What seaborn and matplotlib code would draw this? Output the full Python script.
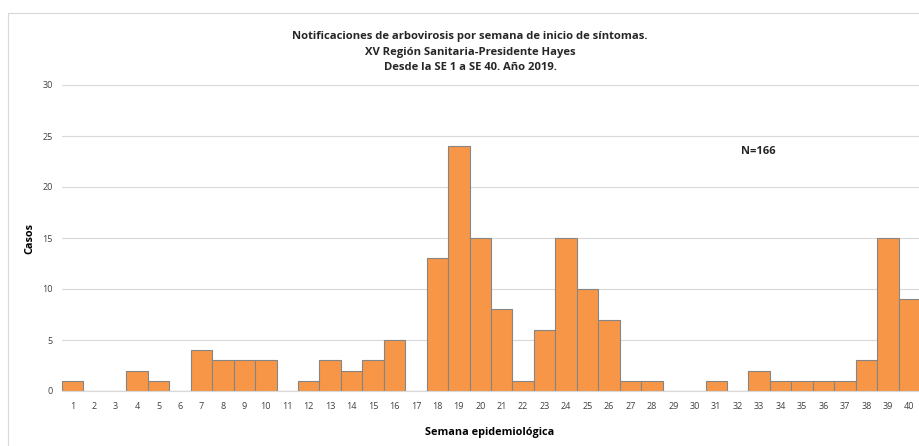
import matplotlib
matplotlib.use("Agg")
import matplotlib.pyplot as plt
import seaborn as sns
import pandas as pd
from matplotlib.lines import Line2D

weeks = [str(i) for i in range(1, 41)]
cases = [1, 0, 0, 2, 1, 0, 4, 3, 3, 3,
         0, 1, 3, 2, 3, 5, 0, 13, 24, 15,
         8, 1, 6, 15, 10, 7, 1, 1, 0, 0,
         1, 0, 2, 1, 1, 1, 1, 3, 15, 9]
y_ticks = [0, 5, 10, 15, 20, 25, 30]
title_lines = ["Notificaciones de arbovirosis por semana de inicio de síntomas.",
               "XV Región Sanitaria-Presidente Hayes",
               "Desde la SE 1 a SE 40. Año 2019."]
n_label = "N=166"

sns.set_theme(style="white")
plt.rcParams['font.family'] = ['Open Sans', 'DejaVu Sans']

df = pd.DataFrame({"Semana": weeks, "Casos": cases})

fig = plt.figure(figsize=(9.2, 4.46), dpi=100)
ax = fig.add_axes([62/920, 1-391/446, 858/920, (391-85)/446])

ax.yaxis.grid(True, color="#d9d9d9", linewidth=0.8)
ax.set_axisbelow(True)
sns.barplot(data=df, x="Semana", y="Casos", ax=ax, width=1.0,
            color="#F79646", saturation=1, edgecolor="#858585", linewidth=0.8)

ax.set_ylim(0, 30)
ax.set_xlim(-0.5, 39.5)
ax.set_yticks(y_ticks)
ax.set_yticklabels([str(t) for t in y_ticks], fontsize=6.5, color="#404040")
ax.tick_params(axis='x', labelsize=6.5, labelcolor="#404040", length=0, pad=8)
ax.tick_params(axis='y', length=0, pad=6.5)
for s in ["top", "right", "left"]:
    ax.spines[s].set_visible(False)
ax.spines["bottom"].set_color("#d9d9d9")
ax.spines["bottom"].set_linewidth(0.8)

ax.set_xlabel("Semana epidemiológica", fontsize=7.8, fontweight="bold", color="black")
ax.set_ylabel("Casos", fontsize=7.8, fontweight="bold", color="black")
ax.yaxis.set_label_coords((30 - 62) / 858, 0.5)
ax.xaxis.set_label_coords((490 - 62) / 858, -(432 - 391) / 306)
ax.xaxis.label.set_va("center")
ax.yaxis.label.set_va("center")

for i, line in enumerate(title_lines):
    fig.text(470/920, 1-(37+15*i)/446, line, ha="center", va="center", fontsize=8.1, fontweight="bold")
fig.text(758/920, 1-151/446, n_label, ha="center", va="center", fontsize=8, fontweight="bold")

# figure frame
fig.add_artist(Line2D([8/920, 1.0], [1-12.5/446, 1-12.5/446], transform=fig.transFigure, color="#d9d9d9", linewidth=0.8))
fig.add_artist(Line2D([8/920, 8/920], [0, 1-12.5/446], transform=fig.transFigure, color="#d9d9d9", linewidth=0.8))

fig.savefig("out.png", dpi=100, facecolor="white")
